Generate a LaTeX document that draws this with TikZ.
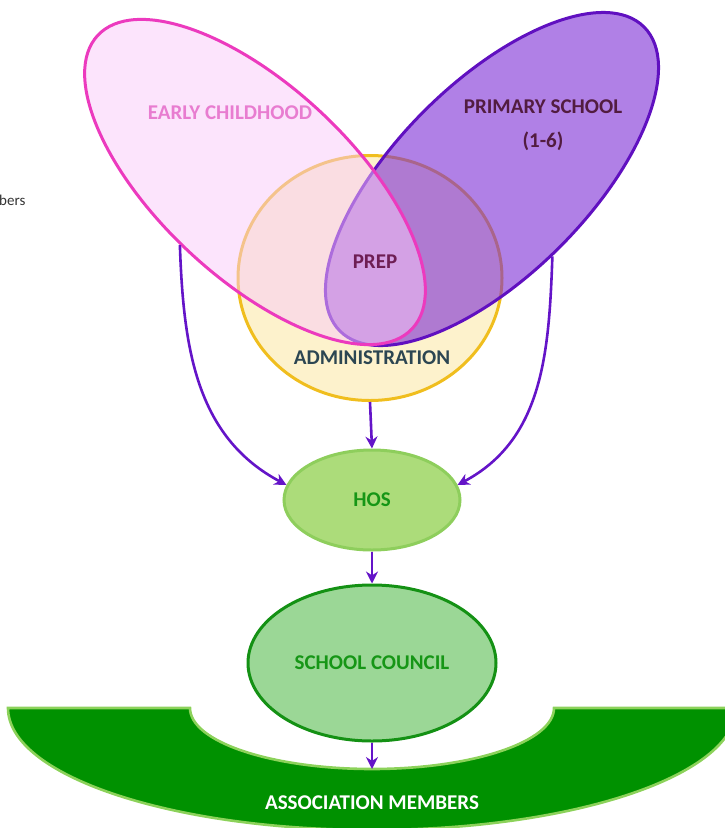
\documentclass[tikz,border=0pt]{standalone}
\usepackage{fontspec}
\setmainfont{Carlito}
\definecolor{pinkline}{RGB}{236, 58, 190}
\definecolor{pinkfill}{RGB}{249, 201, 249}
\definecolor{pinktext}{RGB}{232, 124, 208}
\definecolor{purpline}{RGB}{96, 16, 192}
\definecolor{purpfill}{RGB}{123, 43, 213}
\definecolor{purptext}{RGB}{82, 28, 64}
\definecolor{preptext}{RGB}{110, 30, 84}
\definecolor{adminline}{RGB}{240, 190, 30}
\definecolor{adminfill}{RGB}{253, 242, 204}
\definecolor{admintext}{RGB}{44, 70, 82}
\definecolor{hosline}{RGB}{142, 206, 92}
\definecolor{hosfill}{RGB}{172, 220, 122}
\definecolor{councilline}{RGB}{20, 145, 20}
\definecolor{councilfill}{RGB}{155, 215, 150}
\definecolor{greentext}{RGB}{22, 150, 22}
\definecolor{assocfill}{RGB}{0, 145, 0}
\definecolor{assocline}{RGB}{140, 210, 90}
\definecolor{arrowpurple}{RGB}{100, 20, 200}
\usetikzlibrary{arrows.meta, shapes.geometric}
\tikzset{
	bubble/.style={ellipse, inner sep=0pt, line width=3pt},
	petal/.style={bubble, minimum width=430pt, minimum height=192pt},
	bigtext/.style={font=\bfseries\fontsize{21}{34}\selectfont, align=center},
	arrow/.style={-{Stealth[length=12pt, width=12pt]}, line width=2.6pt, draw=arrowpurple},
}

\begin{document}
\begin{tikzpicture}[x=1pt, y=1pt]
	\useasboundingbox (0,0) rectangle (725,-828);
	\node[bubble, draw=adminline, fill=adminfill, minimum width=264pt, minimum height=245pt] (admin) at (370,-278) {};
	\node[petal, draw=purpline, fill=purpfill, fill opacity=0.6, rotate=45] (primary) at (492,-179) {};
	\node[petal, draw=pinkline, fill=pinkfill, fill opacity=0.5, rotate=-43] (early) at (255,-182) {};
	\node[bigtext, text=pinktext] (earlytxt) at (230,-113) {EARLY CHILDHOOD};
	\node[bigtext, text=purptext] (primtxt) at (543,-125) {PRIMARY SCHOOL\\(1-6)};
	\node[bigtext, text=preptext] (prep) at (375,-262) {PREP};
	\node[bigtext, text=admintext] (admintxt) at (372,-358) {ADMINISTRATION};
	\node[bubble, draw=hosline, fill=hosfill, minimum width=176pt, minimum height=100pt, bigtext, text=greentext] (hos) at (372,-500) {HOS};
	\node[bubble, draw=councilline, fill=councilfill, minimum width=248pt, minimum height=156pt, bigtext, text=greentext] (council) at (372,-663) {SCHOOL COUNCIL};
	% association band, cut off by the page edge
	\begin{scope}
		\clip (0,0) rectangle (725,-828);
		\draw[draw=assocline, fill=assocfill, line width=2.6pt] (8,-708) -- (190,-708)
			arc[start angle=180, end angle=360, x radius=182, y radius=61] -- (736,-708)
			arc[start angle=0, end angle=-180, x radius=364, y radius=122] -- cycle;
	\end{scope}
	\coordinate (associn) at (372,-769);
	\node[bigtext, text=white] (assoc) at (372,-803) {ASSOCIATION MEMBERS};
	\node[anchor=west, inner sep=0pt, font=\fontsize{15}{17}\selectfont, text=black!80] (bers) at (-1,-200) {bers};
	\draw[arrow] (early.263) to[out=-88, in=152] (hos.170);
	\draw[arrow] (primary.263) to[out=-92, in=28] (hos.10);
	\draw[arrow] (admin.south) -- (hos.north);
	\draw[arrow] (hos.south) -- (council.north);
	\draw[arrow] (council.south) -- (associn);
\end{tikzpicture}
\end{document}
